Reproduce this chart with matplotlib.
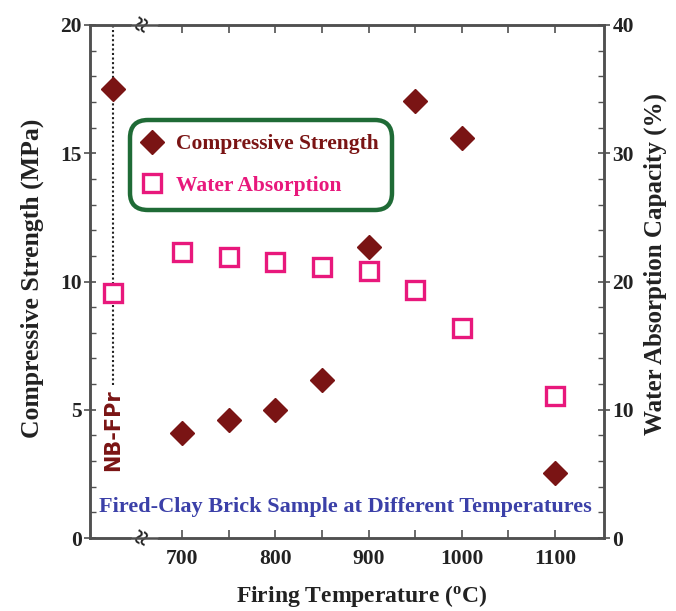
import matplotlib
matplotlib.use("Agg")
import matplotlib.pyplot as plt
from matplotlib.ticker import MultipleLocator, FixedLocator

# data
temps = [626, 700, 750, 800, 850, 900, 950, 1000, 1100]   # 626 = unfired NB-FPr position
strength = [17.5, 4.1, 4.6, 5.0, 6.15, 11.35, 17.05, 15.6, 2.55]
absorption = [19.1, 22.3, 21.9, 21.5, 21.1, 20.8, 19.3, 16.4, 11.1]
xticks_major = [700, 800, 900, 1000, 1100]
xticks_minor = [750, 850, 950, 1050]

DARKRED = "#7a1414"
PINK = "#e8187c"
GREEN = "#1f6b36"
BLUE = "#3b40a8"
SPINE = "#505050"
SERIF = "Liberation Serif"

plt.rcParams["font.family"] = SERIF
plt.rcParams["font.weight"] = "bold"
plt.rcParams["mathtext.fontset"] = "custom"
plt.rcParams["mathtext.rm"] = "Liberation Serif:bold"
plt.rcParams["mathtext.bf"] = "Liberation Serif:bold"
plt.rcParams["mathtext.default"] = "bf"

fig = plt.figure(figsize=(6.76, 6.11), dpi=100)
ax = fig.add_axes([90 / 676, 73 / 611, 514 / 676, 513 / 611])
ax2 = ax.twinx()

ax.set_xlim(601, 1152.5)
ax.set_ylim(0, 20)
ax2.set_ylim(0, 40)

ax.plot(temps, strength, linestyle="none", marker="D", markersize=12,
        color=DARKRED, label="Compressive Strength", zorder=3)
ax2.plot(temps, absorption, linestyle="none", marker="s", markersize=13,
         markerfacecolor="white", markeredgecolor=PINK, markeredgewidth=2.4,
         label="Water Absorption", zorder=3)

# dotted reference line for the unfired sample
ax.plot([temps[0], temps[0]], [5.95, 20], linestyle=(0, (1, 1.2)), color="#222222",
        linewidth=1.5, zorder=1)
ax.text(temps[0], 4.2, "NB-FPr", rotation=90, ha="center", va="center",
        color=DARKRED, fontsize=15, fontweight="bold", family="DejaVu Sans")

# axis break marks
for yy in (0, 1):
    ax.text(660, yy, "\u2248", transform=ax.get_xaxis_transform(), rotation=70,
            ha="center", va="center", fontsize=20, color="#222222",
            bbox=dict(facecolor="white", edgecolor="none", pad=0.0), zorder=5,
            clip_on=False)

ax.xaxis.set_major_locator(FixedLocator(xticks_major))
ax.xaxis.set_minor_locator(FixedLocator(xticks_minor))
ax.yaxis.set_major_locator(MultipleLocator(5))
ax.yaxis.set_minor_locator(MultipleLocator(1))
ax2.yaxis.set_major_locator(MultipleLocator(10))
ax2.yaxis.set_minor_locator(MultipleLocator(2))

for a in (ax, ax2):
    for s in a.spines.values():
        s.set_color(SPINE)
        s.set_linewidth(1.8)
ax.tick_params(axis="x", which="both", direction="in", top=True, colors=SPINE,
               labelcolor="#222222", labelsize=15.5, pad=8)
ax.tick_params(axis="x", which="major", length=6, width=1.2)
ax.tick_params(axis="x", which="minor", length=6, width=1.2)
ax.tick_params(axis="y", which="major", direction="inout", length=8, width=1.2,
               colors=SPINE, labelcolor="#222222", labelsize=15.5, pad=2)
ax.tick_params(axis="y", which="minor", direction="in", length=4, width=1.0, colors=SPINE)
ax2.tick_params(axis="y", which="major", direction="inout", length=8, width=1.2,
                colors=SPINE, labelcolor="#222222", labelsize=15.5, pad=2)
ax2.tick_params(axis="y", which="minor", direction="in", length=4, width=1.0, colors=SPINE)

for lbl in ax.get_xticklabels() + ax.get_yticklabels() + ax2.get_yticklabels():
    lbl.set_fontweight("bold")

ax.set_xlabel("Firing Temperature ($^{o}$C)", fontsize=17, fontweight="bold",
              color="#222222", ha="center", va="center")
ax.set_ylabel("Compressive Strength (MPa)", fontsize=18.5, fontweight="bold",
              color="#222222", ha="center", va="center")
ax2.set_ylabel("Water Absorption Capacity (%)", fontsize=18, fontweight="bold",
               color="#222222", ha="center", va="center")
ax.xaxis.set_label_coords(0.529, -0.113)
ax.yaxis.set_label_coords(-0.113, 0.507)
ax2.yaxis.set_label_coords(1.099, 0.534)

ax.text(0.497, 0.06, "Fired-Clay Brick Sample at Different Temperatures",
        transform=ax.transAxes, ha="center", va="center", color=BLUE,
        fontsize=16, fontweight="bold")

h1, l1 = ax.get_legend_handles_labels()
h2, l2 = ax2.get_legend_handles_labels()
leg = ax2.legend(h1[:1] + h2, [l1[0]] + l2, loc="upper left",
                 bbox_to_anchor=(126 / 676, 1 - 116 / 611), bbox_transform=fig.transFigure,
                 fontsize=15.5, frameon=True, fancybox=True, handletextpad=0.75,
                 borderpad=0.35, labelspacing=1.0, handlelength=0.7)
frame = leg.get_frame()
frame.set_edgecolor(GREEN)
frame.set_linewidth(3.2)
frame.set_alpha(1)
frame.set_boxstyle("round,pad=0.3,rounding_size=0.8")
for t, c in zip(leg.get_texts(), (DARKRED, PINK)):
    t.set_color(c)
    t.set_fontweight("bold")

fig.savefig("out.png", dpi=100)
